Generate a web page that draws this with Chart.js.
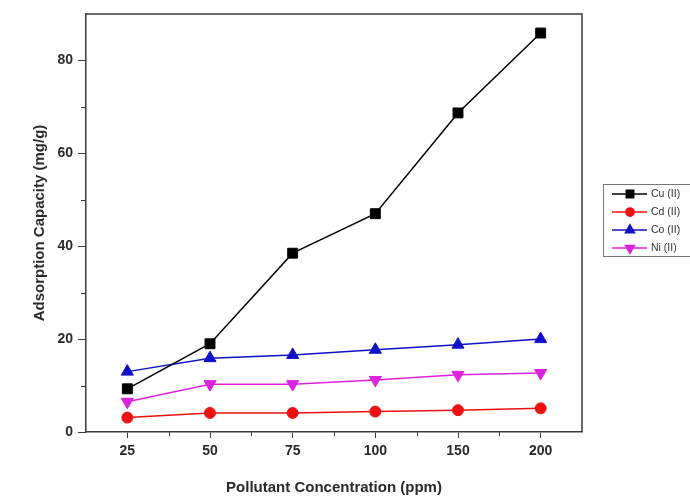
<!DOCTYPE html>
<html>
<head>
<meta charset="utf-8">
<script src="https://cdn.jsdelivr.net/npm/chart.js@4"></script>
<style>
  html, body { margin: 0; padding: 0; background: #fff; overflow: hidden; }
  #wrap { width: 690px; height: 497px; }
</style>
</head>
<body>
<div id="wrap"><canvas id="chartCanvas" width="690" height="497"></canvas></div>
<script>
// concentrations (ppm), shown as evenly spaced categories
const concentrations = ['25', '50', '75', '100', '150', '200'];

// adsorption capacity (mg/g) per metal ion
const cuValues = [9.3, 19.0, 38.5, 47.0, 68.7, 85.9];
const cdValues = [3.1, 4.1, 4.1, 4.4, 4.7, 5.1];
const coValues = [13.0, 15.9, 16.6, 17.7, 18.8, 20.0];
const niValues = [6.5, 10.3, 10.3, 11.2, 12.3, 12.7];

const yTicks = [0, 20, 40, 60, 80];
const yMinorTicks = [10, 30, 50, 70];

const axisColor = '#3a3a3a';
const labelFont = { family: 'Liberation Sans, Arial, sans-serif', size: 14, weight: 'bold' };

// top/right frame, minor ticks and the boxed legend
const framePlugin = {
    id: 'frame',
    afterDraw(chart) {
        const { ctx, chartArea: a, scales } = chart;
        ctx.save();
        ctx.strokeStyle = axisColor;
        ctx.lineWidth = 1.5;
        ctx.beginPath();
        ctx.moveTo(a.left, a.top);
        ctx.lineTo(a.right, a.top);
        ctx.lineTo(a.right, a.bottom);
        ctx.stroke();

        ctx.lineWidth = 1;
        ctx.beginPath();
        yMinorTicks.forEach(v => {
            const y = Math.round(scales.y.getPixelForValue(v)) + 0.5;
            ctx.moveTo(a.left - 5, y);
            ctx.lineTo(a.left, y);
        });
        for (let i = 0; i < concentrations.length - 1; i++) {
            const x = Math.round((scales.x.getPixelForValue(i) + scales.x.getPixelForValue(i + 1)) / 2) + 0.5;
            ctx.moveTo(x, a.bottom);
            ctx.lineTo(x, a.bottom + 4);
        }
        ctx.stroke();

        // legend, cut by the right edge like the original
        const lx = 603, ly = 184, lw = 100, lh = 72;
        ctx.strokeStyle = '#777';
        ctx.lineWidth = 1;
        ctx.strokeRect(lx + 0.5, ly + 0.5, lw, lh);
        ctx.font = '10.5px Liberation Sans, Arial, sans-serif';
        ctx.textBaseline = 'middle';
        chart.data.datasets.forEach((ds, i) => {
            const y = ly + 10 + i * 18;
            ctx.strokeStyle = ds.borderColor;
            ctx.lineWidth = 1.5;
            ctx.beginPath();
            ctx.moveTo(lx + 9, y);
            ctx.lineTo(lx + 44, y);
            ctx.stroke();
            ctx.fillStyle = ds.backgroundColor;
            Chart.helpers.drawPoint(ctx, {
                pointStyle: ds.pointStyle,
                rotation: ds.pointRotation || 0,
                radius: ds.pointRadius * 0.75,
                borderWidth: 1
            }, lx + 27, y);
            ctx.fillStyle = '#333';
            ctx.fillText(ds.label, lx + 48, y);
        });
        ctx.restore();
    }
};

function series(label, data, color, style, radius, rotation) {
    return {
        label: label,
        data: data,
        borderColor: color,
        backgroundColor: color,
        borderWidth: 1.5,
        pointStyle: style,
        pointRadius: radius,
        pointHoverRadius: radius,
        pointRotation: rotation,
        pointBorderWidth: 1,
        tension: 0,
        fill: false
    };
}

const ctx = document.getElementById('chartCanvas').getContext('2d');
new Chart(ctx, {
    type: 'line',
    data: {
        labels: concentrations,
        datasets: [
            series('Cu (II)', cuValues, '#000000', 'rect', 7, 0),
            series('Cd (II)', cdValues, '#ee1111', 'circle', 5.5, 0),
            series('Co (II)', coValues, '#1010c8', 'triangle', 7, 0),
            series('Ni (II)', niValues, '#dd22dd', 'triangle', 7, 180)
        ]
    },
    options: {
        responsive: false,
        animation: false,
        layout: { padding: { left: 0, top: 14, right: 108, bottom: 0 } },
        plugins: {
            legend: { display: false },
            tooltip: { enabled: false }
        },
        scales: {
            x: {
                offset: true,
                grid: {
                    drawOnChartArea: false,
                    drawTicks: true,
                    tickLength: 6,
                    color: axisColor,
                    offset: false
                },
                border: { display: true, color: axisColor, width: 1.5 },
                ticks: { color: '#2a2a2a', font: labelFont, padding: 5, maxRotation: 0 },
                title: {
                    display: true,
                    text: 'Pollutant Concentration (ppm)',
                    color: '#2a2a2a',
                    font: { family: labelFont.family, size: 15, weight: 'bold' },
                    padding: { top: 0, bottom: 0 }
                },
                afterFit(scale) { scale.height = 65; }
            },
            y: {
                min: 0,
                max: 90,
                afterBuildTicks(scale) { scale.ticks = yTicks.map(v => ({ value: v })); },
                grid: {
                    drawOnChartArea: false,
                    drawTicks: true,
                    tickLength: 8,
                    color: axisColor
                },
                border: { display: true, color: axisColor, width: 1.5 },
                ticks: { color: '#2a2a2a', font: labelFont, padding: 5 },
                title: {
                    display: true,
                    text: 'Adsorption Capacity (mg/g)',
                    color: '#2a2a2a',
                    font: { family: labelFont.family, size: 15, weight: 'bold' },
                    padding: { top: 31, bottom: 0 }
                },
                afterFit(scale) { scale.width = 86; }
            }
        }
    },
    plugins: [framePlugin]
});
</script>
</body>
</html>
